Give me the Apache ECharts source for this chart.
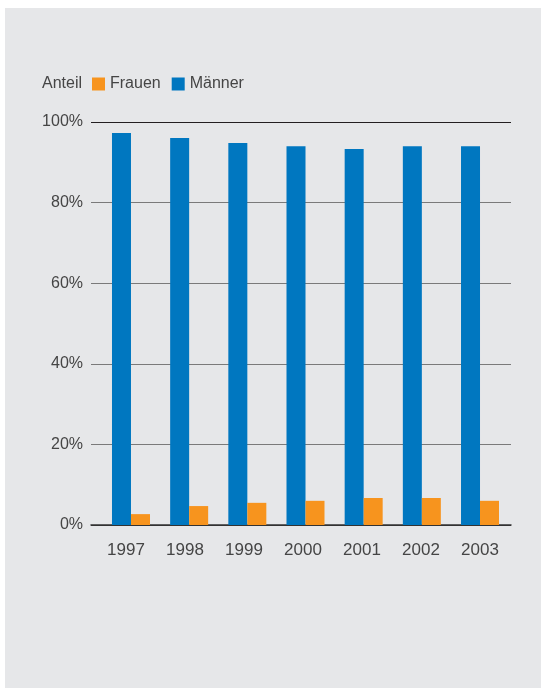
<!DOCTYPE html>
<html>
<head>
<meta charset="utf-8">
<script src="https://cdn.jsdelivr.net/npm/echarts@6/dist/echarts.min.js"></script>
<style>
html,body{margin:0;padding:0;background:#fff;}
#chart{width:541px;height:688px;}
</style>
</head>
<body>
<div id="chart"></div>
<script>
const years = ['1997','1998','1999','2000','2001','2002','2003'];
const maenner = [97.3, 96.0, 94.8, 94.0, 93.3, 94.0, 94.0];
const frauen = [2.7, 4.7, 5.5, 6.0, 6.7, 6.7, 6.0];
const yTicks = [0, 20, 40, 60, 80, 100];

const FONT = 'Liberation Sans, Arial, sans-serif';
const TXT = '#454545';
const BLUE = '#0077c0';
const ORANGE = '#f7941e';

const chart = echarts.init(document.getElementById('chart'), null, {renderer: 'canvas'});
const option = {
  backgroundColor: '#ffffff',
  animation: false,
  graphic: [
    {type: 'rect', left: 5, top: 8, z: -100, silent: true,
     shape: {width: 536, height: 680}, style: {fill: '#e6e7e9'}},
    {type: 'text', left: 42, top: 76, silent: true,
     style: {text: 'Anteil', font: '16px ' + FONT, fill: TXT}}
  ],
  legend: {
    data: ['Frauen', 'Männer'],
    left: 92, top: 76, padding: 0,
    itemWidth: 13, itemHeight: 13, itemGap: 11,
    icon: 'rect',
    selectedMode: false,
    textStyle: {fontFamily: FONT, fontSize: 16, color: TXT}
  },
  grid: [
    {left: 101.9, right: 31.9, top: 122, bottom: 163, containLabel: false},
    {left: 91, right: 30, top: 122, bottom: 163, containLabel: false},
    {left: 96.5, right: 31.5, top: 122, bottom: 163, containLabel: false}
  ],
  xAxis: [
    {gridIndex: 0, type: 'category', data: years, show: false},
    {gridIndex: 1, type: 'category', data: years,
     axisLine: {show: true, lineStyle: {color: '#333', width: 1.5}},
     axisTick: {show: false}, axisLabel: {show: false}, splitLine: {show: false}},
    {gridIndex: 2, type: 'category', data: years,
     axisLine: {show: false}, axisTick: {show: false}, splitLine: {show: false},
     axisLabel: {show: true, margin: 17, fontFamily: FONT, fontSize: 17, color: TXT}}
  ],
  yAxis: [
    {gridIndex: 0, type: 'value', min: 0, max: 100, show: false},
    {gridIndex: 1, type: 'value', min: 0, max: 100, interval: 20,
     axisLine: {show: false}, axisTick: {show: false},
     axisLabel: {margin: 8, fontFamily: FONT, fontSize: 16, color: TXT,
       formatter: function (v) { return yTicks.indexOf(v) >= 0 ? v + '%' : ''; }},
     splitLine: {show: true, lineStyle: {width: 1,
       color: ['#333', '#7a7a7a', '#7a7a7a', '#7a7a7a', '#7a7a7a', '#231f20']}}},
    {gridIndex: 2, type: 'value', min: 0, max: 100, show: false}
  ],
  series: [
    {name: 'Männer', type: 'bar', xAxisIndex: 0, yAxisIndex: 0, data: maenner,
     barWidth: 19, barGap: '0%', itemStyle: {color: BLUE}},
    {name: 'Frauen', type: 'bar', xAxisIndex: 0, yAxisIndex: 0, data: frauen,
     barWidth: 19, barGap: '0%', itemStyle: {color: ORANGE}}
  ]
};
chart.setOption(option);
</script>
</body>
</html>
